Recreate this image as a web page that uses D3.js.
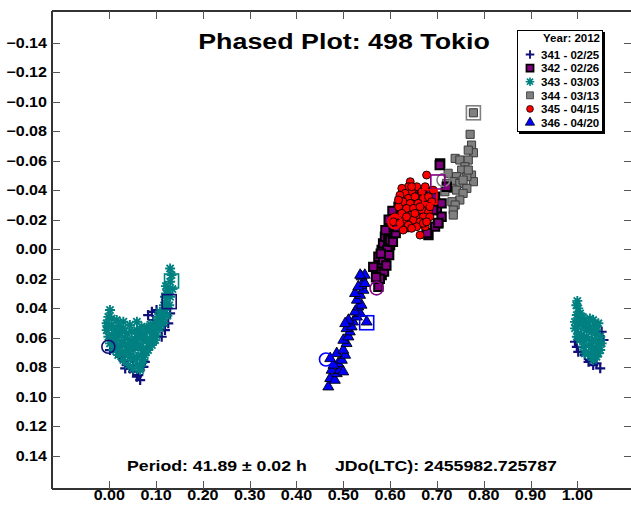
<!DOCTYPE html>
<html lang="en">
<head>
<meta charset="utf-8">
<title>Phased Plot: 498 Tokio</title>
<style>
  body { margin: 0; background: #fff; }
  svg text { font-family: "Liberation Sans", Arial, sans-serif; font-weight: bold; fill: #000; }
</style>
</head>
<body>
<svg id="chart" width="631" height="508"></svg>
<script src="https://d3js.org/d3.v7.min.js"></script>
<script>
// session 341 - 02/25 (navy plus)
var s341 = [
  [0.091,0.0424],[0.083,0.0446],[0.101,0.0412],[0.130,0.0435],[0.126,0.0502],[0.119,0.0548],
  [0.112,0.0593],[0.094,0.0480],[0.030,0.0751],[0.037,0.0785],[0.044,0.0808],[0.051,0.0830],
  [0.062,0.0853],[0.066,0.0887],[0.059,0.0864],[0.023,0.0729],[0.016,0.0695],[0.0015,0.0683],
  [0.073,0.0797],[0.076,0.0763],[0.051,0.0785],[0.034,0.0808],
  [0.995,0.0627],[0.999,0.0661],[1.002,0.0695],[1.016,0.0717],[1.027,0.0751],[1.034,0.0785],
  [1.049,0.0807],[1.041,0.0774],[1.052,0.0559],[1.056,0.0615],[1.024,0.0763]
];
// session 342 - 02/26 (purple square)
var s342 = [
  [0.575,0.0254],[0.582,0.0175],[0.571,0.0141],[0.578,0.0096],[0.589,0.0073],[0.575,0.0051],
  [0.593,0.0028],[0.582,0.0005],[0.585,-0.0040],[0.600,-0.0028],[0.589,-0.0085],[0.596,-0.0096],
  [0.603,-0.0130],[0.600,-0.0176],[0.610,-0.0198],[0.614,-0.0243],[0.618,-0.0288],[0.621,-0.0322],
  [0.628,-0.0345],[0.643,-0.0367],[0.685,-0.0390],[0.696,-0.0356],[0.700,-0.0266],[0.703,-0.0176],
  [0.710,-0.0220],[0.678,-0.0108],[0.696,-0.0153],[0.707,-0.0582],[0.682,-0.0096],[0.564,0.0119],
  [0.607,-0.0153],[0.596,-0.0017],[0.600,-0.0062],[0.594,0.0005],[0.585,0.0073],[0.587,0.0152],
  [0.614,-0.0198],[0.625,-0.0277],[0.710,-0.0311],[0.721,-0.0424],[0.703,-0.0178],[0.679,-0.0110],
  [0.692,-0.0266],[0.706,-0.0571],
  [0.592,0.0110],[0.598,0.0040],[0.606,-0.0050],[0.612,-0.0110],[0.580,0.0030],[0.590,-0.0130],
  [0.597,-0.0200],[0.605,-0.0260],[0.620,-0.0200],[0.632,-0.0290],[0.615,-0.0150],[0.578,0.0200],
  [0.570,0.0190],[0.640,-0.0330],[0.655,-0.0390],[0.668,-0.0380],
  [0.640,-0.0250],[0.655,-0.0300],[0.665,-0.0200],[0.648,-0.0180],[0.630,-0.0150]
];
// session 343 - 03/03 (teal asterisk)
var s343 = [
  [0.130,0.0130],[0.133,0.0175],[0.130,0.0220],[0.126,0.0277],[0.130,0.0322],[0.123,0.0367],
  [0.119,0.0412],[0.115,0.0458],[0.112,0.0491],[0.108,0.0536],[0.101,0.0582],[0.098,0.0616],
  [0.091,0.0649],[0.083,0.0683],[0.076,0.0717],[0.073,0.0751],[0.066,0.0785],[0.066,0.0819],
  [0.0015,0.0412],[-0.002,0.0458],[-0.0056,0.0502],[-0.0056,0.0548],[-0.002,0.0593],[0.0015,0.0638],
  [0.0085,0.0683],[0.019,0.0717],[0.030,0.0751],[0.041,0.0785],[0.051,0.0808],
  [0.016,0.0480],[0.030,0.0491],[0.044,0.0514],[0.059,0.0548],[0.037,0.0570],[0.023,0.0570],
  [0.012,0.0548],[0.0085,0.0616],[0.026,0.0627],[0.044,0.0616],[0.062,0.0593],[0.076,0.0570],
  [0.087,0.0548],[0.098,0.0525],[0.104,0.0458],[0.083,0.0638],[0.066,0.0661],[0.051,0.0683],
  [0.037,0.0683],[0.023,0.0661],[0.059,0.0729],[0.044,0.0729],[0.073,0.0683],[0.091,0.0593],
  [0.101,0.0491],[0.030,0.0536],[0.051,0.0638],[0.041,0.0649],[0.005,0.0514],[0.016,0.0593],
  [0.069,0.0525],[0.059,0.0491],[0.108,0.0424],[0.119,0.0322],[0.073,0.0616],
  [0.005,0.0580],[0.012,0.0640],[0.020,0.0520],[0.034,0.0600],[0.048,0.0560],[0.055,0.0610],
  [0.062,0.0660],[0.068,0.0720],[0.080,0.0610],[0.086,0.0660],[0.094,0.0620],[0.088,0.0510],
  [0.080,0.0530],[0.095,0.0560],[0.105,0.0520],[0.112,0.0440],[0.117,0.0380],[0.122,0.0300],
  [0.124,0.0450],[0.116,0.0500],[0.028,0.0700],[0.040,0.0710],[0.052,0.0740],[0.060,0.0780],
  [0.070,0.0770],[0.078,0.0700],[0.045,0.0670],[0.033,0.0650],[0.015,0.0670],[0.005,0.0470],
  [-0.004,0.0520],[0.058,0.0630],[0.066,0.0570],[0.128,0.0380],[0.121,0.0250],[0.135,0.0270],
  [1.002,0.0401],[0.999,0.0446],[0.995,0.0492],[1.006,0.0480],[0.995,0.0536],[1.002,0.0570],
  [1.013,0.0525],[1.027,0.0469],[1.034,0.0480],[1.045,0.0502],[1.041,0.0548],[1.049,0.0593],
  [1.052,0.0638],[1.049,0.0683],[1.041,0.0729],[1.034,0.0751],[1.024,0.0706],[1.013,0.0661],
  [1.006,0.0615],[1.020,0.0593],[1.031,0.0615],[1.034,0.0672],[1.020,0.0548],[1.009,0.0582],
  [1.027,0.0525],[1.045,0.0706],[1.016,0.0706],[1.038,0.0570],[1.006,0.0435],[0.999,0.0593],
  [1.010,0.0500],[1.020,0.0500],[1.030,0.0560],[1.040,0.0620],[1.025,0.0650],[1.015,0.0620],
  [1.035,0.0700],[1.028,0.0720],[1.045,0.0650],[1.000,0.0520],[1.012,0.0460],[1.040,0.0520],
  [1.000,0.0350],[0.998,0.0380]
];
// session 344 - 03/13 (gray square)
var s344 = [
  [0.778,-0.0925],[0.771,-0.0779],[0.774,-0.0706],[0.778,-0.0654],[0.767,-0.0672],[0.739,-0.0616],
  [0.749,-0.0605],[0.767,-0.0605],[0.760,-0.0559],[0.753,-0.0537],[0.774,-0.0503],[0.778,-0.0458],
  [0.764,-0.0492],[0.742,-0.0492],[0.735,-0.0458],[0.749,-0.0447],[0.732,-0.0413],[0.764,-0.0413],
  [0.742,-0.0401],[0.756,-0.0379],[0.749,-0.0334],[0.732,-0.0322],[0.739,-0.0300],[0.735,-0.0266],
  [0.735,-0.0232],[0.724,-0.0515],[0.721,-0.0447],[0.717,-0.0390],[0.767,-0.0537],[0.756,-0.0469]
];
// session 345 - 04/15 (red circle)
var s345 = [
  [0.678,-0.0503],[0.643,-0.0458],[0.657,-0.0424],[0.639,-0.0424],[0.625,-0.0413],[0.646,-0.0390],
  [0.632,-0.0379],[0.668,-0.0390],[0.675,-0.0424],[0.621,-0.0367],[0.639,-0.0345],[0.653,-0.0356],
  [0.671,-0.0345],[0.682,-0.0356],[0.689,-0.0322],[0.628,-0.0322],[0.643,-0.0311],[0.660,-0.0311],
  [0.675,-0.0300],[0.618,-0.0288],[0.635,-0.0277],[0.650,-0.0277],[0.668,-0.0266],[0.682,-0.0254],
  [0.625,-0.0243],[0.646,-0.0232],[0.657,-0.0220],[0.671,-0.0220],[0.685,-0.0220],[0.632,-0.0198],
  [0.650,-0.0198],[0.664,-0.0186],[0.639,-0.0164],[0.657,-0.0153],[0.675,-0.0153],[0.628,-0.0130],
  [0.664,-0.0096],[0.646,-0.0142],[0.610,-0.0220],[0.607,-0.0186],[0.621,-0.0176],[0.685,-0.0288],
  [0.692,-0.0401],[0.618,-0.0334],[0.671,-0.0176],[0.653,-0.0243],[0.635,-0.0220],[0.646,-0.0424],
  [0.664,-0.0288],[0.678,-0.0186]
];
// session 346 - 04/20 (blue triangle)
var s346 = [
  [0.468,0.0932],[0.472,0.0875],[0.482,0.0887],[0.486,0.0842],[0.475,0.0819],[0.493,0.0819],
  [0.500,0.0830],[0.489,0.0774],[0.479,0.0785],[0.497,0.0751],[0.504,0.0717],[0.472,0.0740],
  [0.486,0.0706],[0.500,0.0683],[0.507,0.0638],[0.500,0.0616],[0.511,0.0593],[0.514,0.0559],
  [0.507,0.0537],[0.518,0.0525],[0.521,0.0492],[0.511,0.0480],[0.504,0.0503],[0.529,0.0458],
  [0.536,0.0435],[0.525,0.0424],[0.532,0.0390],[0.539,0.0378],[0.529,0.0344],[0.536,0.0311],
  [0.525,0.0299],[0.543,0.0277],[0.539,0.0243],[0.532,0.0254],[0.546,0.0231],[0.539,0.0186],
  [0.546,0.0175],[0.536,0.0175],[0.550,0.0492]
];

var sessionNames = ["341 - 02/25", "342 - 02/26", "343 - 03/03", "344 - 03/13", "345 - 04/15", "346 - 04/20"];
// first / last point markers of each session: [phase, mag], null when not visible
var startPts = [[-0.002,0.0661], [0.571,0.0265], null, [0.714,-0.0469], [0.610,-0.0186], [0.463,0.0747]];
var endPts   = [[0.128,0.0355], [0.702,-0.0456], [0.133,0.0215], [0.778,-0.0925], [0.685,-0.0356], [0.550,0.0498]];
var xTicks = [0, 0.1, 0.2, 0.3, 0.4, 0.5, 0.6, 0.7, 0.8, 0.9, 1.0];
var yTicks = [-0.14, -0.12, -0.10, -0.08, -0.06, -0.04, -0.02, 0, 0.02, 0.04, 0.06, 0.08, 0.10, 0.12, 0.14];

var svg = d3.select("#chart");
// plot frame edges (window.top is read-only, so no bare "top")
var pLeft = 52, pRight = 633, pTop = 11, pBottom = 489;

var x = d3.scaleLinear().domain([-0.1224, 1.119]).range([pLeft, pRight]);
var y = d3.scaleLinear().domain([-0.1615, 0.1625]).range([pTop, pBottom]);

var styles = [
  { shape: "plus", color: "#10107a" },
  { shape: "square", color: "#800080", fill: "#800080", stroke: "#000", sw: 2, size: 70 },
  { shape: "star", color: "#008080" },
  { shape: "square", color: "#808080", fill: "#808080", stroke: "#3a3a3a", sw: 1, size: 66 },
  { shape: "circle", color: "#ff0000", fill: "#ff0000", stroke: "#000", sw: 0.9, size: 50 },
  { shape: "triangle", color: "#0000ff", fill: "#0000ff", stroke: "#000", sw: 0.9, size: 52 }
];
var series = [s341, s342, s343, s344, s345, s346];

function markerPath(st) {
  if (st.shape === "plus") return "M-5,0H5M0,-5V5";
  if (st.shape === "star") return "M-5,0H5M0,-5V5M-3.6,-3.6L3.6,3.6M-3.6,3.6L3.6,-3.6";
  var t = { square: d3.symbolSquare, circle: d3.symbolCircle, triangle: d3.symbolTriangle }[st.shape];
  return d3.symbol().type(t).size(st.size)();
}

function drawMark(g, st) {
  if (st.shape === "plus") {
    g.attr("fill", "none").attr("stroke", st.color).attr("stroke-width", 2.2);
  } else if (st.shape === "star") {
    g.attr("fill", "none").attr("stroke", st.color).attr("stroke-width", 1.9);
  } else {
    g.attr("fill", st.fill).attr("stroke", st.stroke).attr("stroke-width", st.sw);
  }
}

// frame
svg.append("g").attr("fill", "none").attr("stroke", "#333").attr("stroke-width", 2)
  .selectAll("line")
  .data([[pLeft, pTop, pRight, pTop], [pLeft, pTop, pLeft, pBottom], [pLeft, pBottom, pRight, pBottom], [pRight, pTop, pRight, pBottom]])
  .join("line")
  .attr("x1", function (d) { return d[0]; }).attr("y1", function (d) { return d[1]; })
  .attr("x2", function (d) { return d[2]; }).attr("y2", function (d) { return d[3]; });

// ticks (pointing inward)
var ticks = svg.append("g").attr("stroke", "#555").attr("stroke-width", 1);
ticks.selectAll(".yl").data(yTicks).join("line").attr("class", "yl")
  .attr("x1", pLeft).attr("x2", pLeft + 8)
  .attr("y1", function (d) { return Math.round(y(d)) + 0.5; }).attr("y2", function (d) { return Math.round(y(d)) + 0.5; });
ticks.selectAll(".yr").data(yTicks).join("line").attr("class", "yr")
  .attr("x1", pRight - 9).attr("x2", pRight)
  .attr("y1", function (d) { return Math.round(y(d)) + 0.5; }).attr("y2", function (d) { return Math.round(y(d)) + 0.5; });
ticks.selectAll(".xb").data(xTicks).join("line").attr("class", "xb")
  .attr("y1", pBottom - 8).attr("y2", pBottom)
  .attr("x1", function (d) { return Math.round(x(d)) + 0.5; }).attr("x2", function (d) { return Math.round(x(d)) + 0.5; });
ticks.selectAll(".xt").data(xTicks).join("line").attr("class", "xt")
  .attr("y1", pTop).attr("y2", pTop + 8)
  .attr("x1", function (d) { return Math.round(x(d)) + 0.5; }).attr("x2", function (d) { return Math.round(x(d)) + 0.5; });

// tick labels
svg.append("g").selectAll("text").data(yTicks).join("text")
  .attr("font-size", 14).attr("text-anchor", "end")
  .attr("transform", function (d) { return "translate(47," + (y(d) + 5) + ") scale(1.15,1)"; })
  .text(function (d) { return d3.format(".2f")(d); });
svg.append("g").selectAll("text").data(xTicks).join("text")
  .attr("font-size", 14).attr("text-anchor", "middle")
  .attr("transform", function (d) { return "translate(" + x(d) + ",500) scale(1.15,1)"; })
  .text(function (d) { return d3.format(".2f")(d); });

// data points, drawn so that later sessions sit on top as in the original
var order = [0, 2, 3, 1, 4, 5];
order.forEach(function (i) {
  var st = styles[i];
  var g = svg.append("g");
  drawMark(g, st);
  g.selectAll("path").data(series[i]).join("path")
    .attr("d", markerPath(st))
    .attr("transform", function (d) { return "translate(" + x(d[0]) + "," + y(d[1]) + ")"; });
});

// session start (circle) and end (square) markers
var opens = svg.append("g").attr("fill", "none");
startPts.forEach(function (p, i) {
  if (!p) return;
  opens.append("circle").attr("cx", x(p[0])).attr("cy", y(p[1])).attr("r", 6.5)
    .attr("stroke", styles[i].color).attr("stroke-width", i === 4 ? 2.4 : 1.6);
});
endPts.forEach(function (p, i) {
  if (!p) return;
  opens.append("rect").attr("x", x(p[0]) - 7).attr("y", y(p[1]) - 7).attr("width", 14).attr("height", 14)
    .attr("stroke", styles[i].color).attr("stroke-width", 1.6);
});

// title
svg.append("text").attr("font-size", 22).attr("text-anchor", "middle")
  .attr("transform", "translate(344,49) scale(1.22,1)")
  .text("Phased Plot: 498 Tokio");

// period / epoch text
svg.append("text").attr("font-size", 15)
  .attr("transform", "translate(127,471) scale(1.18,1)")
  .text("Period: 41.89 \u00b1 0.02 h");
svg.append("text").attr("font-size", 15)
  .attr("transform", "translate(335,471) scale(1.18,1)")
  .text("JDo(LTC): 2455982.725787");

// legend
var lg = svg.append("g");
lg.append("rect").attr("x", 519).attr("y", 32).attr("width", 86).attr("height", 102).attr("fill", "#000");
lg.append("rect").attr("x", 517.5).attr("y", 30.5).attr("width", 85).attr("height", 101)
  .attr("fill", "#fff").attr("stroke", "#000").attr("stroke-width", 1);
lg.append("text").attr("font-size", 11.5).attr("text-anchor", "end")
  .attr("x", 600).attr("y", 42).text("Year: 2012");
sessionNames.forEach(function (name, i) {
  var cy = 54.5 + i * 13.6;
  var m = lg.append("path").attr("d", markerPath(styles[i]))
    .attr("transform", "translate(530," + cy + ") scale(0.85)");
  drawMark(m, styles[i]);
  lg.append("text").attr("font-size", 11.5).attr("x", 541).attr("y", cy + 4.2).text(name);
});
</script>
</body>
</html>
